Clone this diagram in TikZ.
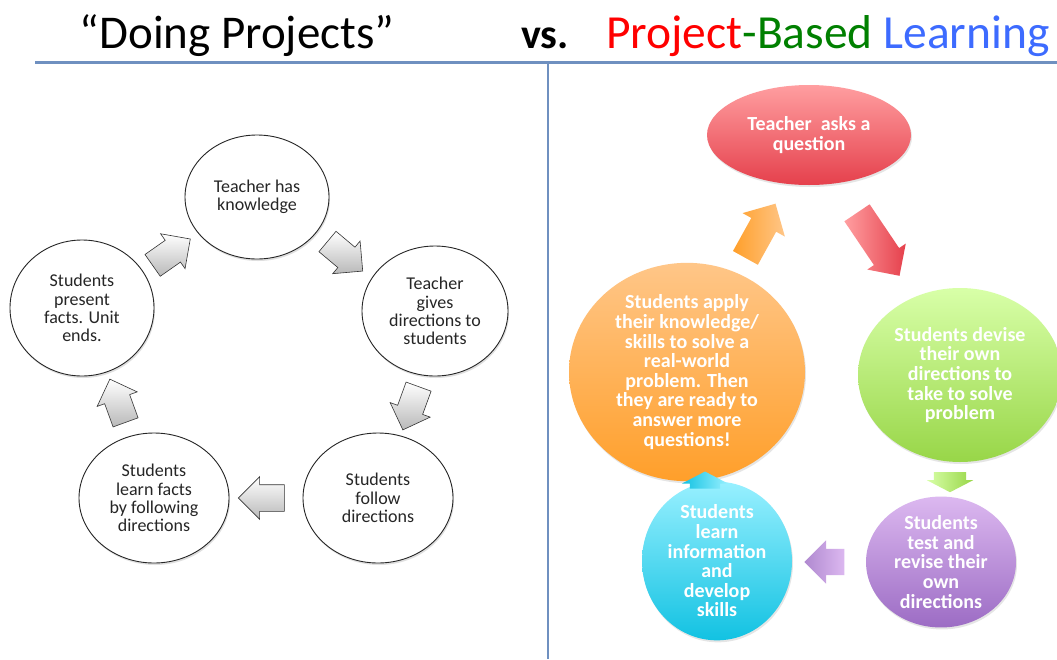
\documentclass[tikz,border=0pt]{standalone}
\usepackage{fontspec}
\setmainfont{Carlito}
\usetikzlibrary{shapes.geometric,shapes.arrows,shadows}
\definecolor{rulecol}{HTML}{6F90C0}
\definecolor{tred}{HTML}{FF0000}
\definecolor{tgreen}{HTML}{008000}
\definecolor{tblue}{HTML}{3D6BFF}
\definecolor{redA}{HTML}{FF9EA0}
\definecolor{redB}{HTML}{E5404C}
\definecolor{orA}{HTML}{FFC688}
\definecolor{orB}{HTML}{FF9F2A}
\definecolor{grA}{HTML}{D8FFA8}
\definecolor{grB}{HTML}{98D648}
\definecolor{puA}{HTML}{DCB8F0}
\definecolor{puB}{HTML}{9C6CC4}
\definecolor{cyA}{HTML}{98F0FF}
\definecolor{cyB}{HTML}{12C2E2}
\begin{document}
\begin{tikzpicture}[x=1pt,y=-1pt,
  lcirc/.style={ellipse, draw=black!85, line width=0.9pt, fill=white, inner sep=0, align=center,
    font=\fontsize{18}{18.3}\selectfont, text=black!85,
    drop shadow={opacity=0.25, shadow xshift=1pt, shadow yshift=-2pt}},
  rcirc/.style={ellipse, inner sep=0, align=center, text=white,
    font=\fontsize{20}{19.6}\selectfont\bfseries,
    drop shadow={opacity=0.2, shadow xshift=1pt, shadow yshift=-2pt}},
  garrow/.style={single arrow, draw=black!80, line width=0.6pt, top color=white, bottom color=gray!55,
    inner xsep=0, inner ysep=13, minimum height=46, minimum width=0, single arrow head extend=8},
  carrow/.style={single arrow, inner xsep=0, minimum width=0}
]
\path[fill=white] (0,0) rectangle (1057,659);
\useasboundingbox (0,0) rectangle (1057,659);

% title
\node[anchor=base, font=\fontsize{47}{48}\selectfont] (t1) at (237,48) {“Doing Projects”};
\node[anchor=base, font=\fontsize{42}{48}\selectfont\bfseries] (t2) at (545,48) {vs.};
\node[anchor=base west, inner sep=0, font=\fontsize{47.5}{48}\selectfont] (t3) at (606,48)
  {\textcolor{tred}{Project}\textcolor{tgreen}{-Based} \textcolor{tblue}{Learning}};

% rules
\coordinate (h1) at (35,62);
\coordinate (h2) at (1057,62);
\coordinate (v1) at (548,63);
\coordinate (v2) at (548,659);
\draw[rulecol, line width=3pt] (h1) -- (h2);
\draw[rulecol, line width=2pt] (v1) -- (v2);

% left cycle
\node[lcirc, minimum width=144, minimum height=124] (L1) at (257,197) {Teacher has\\knowledge};
\node[lcirc, minimum width=146, minimum height=130] (L2) at (435,311) {Teacher\\gives\\directions to\\students};
\node[lcirc, minimum width=150, minimum height=130] (L3) at (378,498) {Students\\follow\\directions};
\node[lcirc, minimum width=150, minimum height=130] (L4) at (154,498) {Students\\learn facts\\by following\\directions};
\node[lcirc, minimum width=144, minimum height=136] (L5) at (82,308) {Students\\present\\facts. Unit\\ends.};

\node[garrow, rotate=35] (a1) at (166,256) {};
\node[garrow, rotate=-40] (a2) at (340,252) {};
\node[garrow, rotate=-110] (a3) at (413,402) {};
\node[garrow, rotate=180] (a4) at (268,498) {};
\node[garrow, rotate=110] (a5) at (120,407) {};

% right cycle
\node[rcirc, top color=redA, bottom color=redB, minimum width=204, minimum height=100] (R1) at (809,135) {Teacher~~asks a\\question};
\node[rcirc, top color=grA, bottom color=grB, minimum width=204, minimum height=174] (R2) at (960,375) {Students devise\\their own\\directions to\\take to solve\\problem};
\node[rcirc, top color=puA, bottom color=puB, minimum width=150, minimum height=130] (R3) at (941,562) {Students\\test and\\revise their\\own\\directions};
\node[rcirc, top color=cyA, bottom color=cyB, minimum width=150, minimum height=130] (R4) at (717,561) {Students\\learn\\information\\and\\develop\\skills};
\node[rcirc, top color=orA, bottom color=orB, minimum width=236, minimum height=195] (R5) at (687,372) {Students apply\\their knowledge/\\skills to solve a\\real-world\\problem. Then\\they are ready to\\answer more\\questions!};

\node[carrow, left color=orB, right color=orA, rotate=61, minimum height=62, inner ysep=14, single arrow head extend=10] (b1) at (757,237) {};
\node[carrow, left color=redA, right color=redB, rotate=-56, minimum height=76, inner ysep=15, single arrow head extend=8] (b2) at (874,238) {};
\node[carrow, left color=grA, right color=grB, rotate=-90, minimum height=20, inner ysep=16, single arrow head extend=7, single arrow tip angle=125] (b3) at (950,478) {};
\node[carrow, left color=puB!80, right color=puA, rotate=180, minimum height=40, inner ysep=13, single arrow head extend=8.5] (b4) at (831,562) {};
\node[carrow, left color=cyB, right color=cyA, rotate=90, minimum height=17, inner ysep=15, single arrow head extend=8, single arrow tip angle=125] (b5) at (705,484) {};
\end{tikzpicture}
\end{document}
